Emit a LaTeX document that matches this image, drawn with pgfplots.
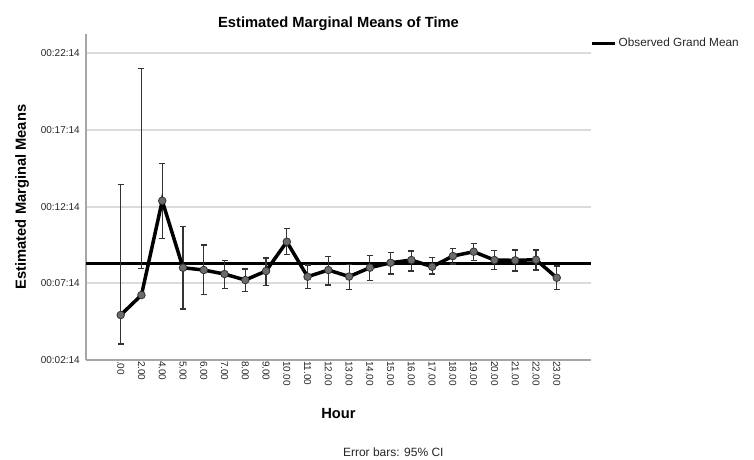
\documentclass[border=0pt]{standalone}
\usepackage{fontspec}
\setmainfont{Liberation Sans}
\usepackage{pgfplots}
\pgfplotsset{compat=1.18}
\usepackage{pgfplotstable}

% time in seconds; lo / hi = 95% CI bounds
\pgfplotstableread{
x mean lo hi
0 310.1 196.6 821.5
1 388.3 491.3 1275.4
2 757.3 608.6 904.9
3 495.2 333.6 655.6
4 486.2 391.1 584.0
5 470.5 414.6 522.6
6 447.0 401.3 490.1
7 482.3 424.7 533.1
8 596.9 547.6 647.8
9 460.0 413.0 505.7
10 486.2 427.5 538.2
11 460.7 410.7 508.5
12 495.2 445.9 543.7
13 514.7 470.5 553.9
14 525.3 482.3 560.5
15 499.1 470.5 535.9
16 541.0 509.6 571.1
17 557.8 522.6 590.7
18 525.3 488.9 561.7
19 524.1 482.3 564.4
20 526.5 486.2 564.4
21 456.0 410.7 501.8
}\datatable

\pgfplotstableread{
x y
-1.671 511.6
22.65 511.6
}\grandmean

\begin{document}
\begin{tikzpicture}
\path[use as bounding box] (-86pt,-99pt) rectangle (668pt,360pt);
\begin{axis}[
  at={(0pt,0pt)}, anchor=south west,
  scale only axis, width=505pt, height=326pt,
  xmin=-1.671, xmax=22.65, ymin=134, ymax=1410,
  axis x line*=bottom, axis y line*=left,
  axis line style={-, draw=black!35, line width=1.5pt},
  ytick={134,434,734,1034,1334},
  yticklabels={00:02:14,00:07:14,00:12:14,00:17:14,00:22:14},
  xtick={0,1,...,21},
  xticklabels={.00,2.00,4.00,5.00,6.00,7.00,8.00,9.00,10.00,11.00,12.00,13.00,14.00,15.00,16.00,17.00,18.00,19.00,20.00,21.00,22.00,23.00},
  major tick length=0pt,
  ymajorgrids, grid style={line width=2pt, black!14},
  tick label style={font=\fontsize{10}{12}\selectfont, text=black!85},
  xticklabel style={rotate=-90, anchor=west, xshift=-2.5pt},
  yticklabel style={xshift=-2.7pt},
  title={Estimated Marginal Means of Time},
  title style={font=\fontsize{14.7}{17}\selectfont\bfseries, at={(0.5,1.003)}, anchor=base},
  ylabel={Estimated Marginal Means},
  ylabel style={font=\fontsize{14.7}{17}\selectfont\bfseries, at={(-0.1267,0.5)}, anchor=center},
  xlabel={Hour},
  xlabel style={font=\fontsize{14.7}{17}\selectfont\bfseries, at={(0.5,-0.178)}, anchor=base},
  legend style={at={(0.999,0.971)}, anchor=west, draw=none, fill=none, inner sep=0pt,
    font=\fontsize{11.8}{13}\selectfont, text=black!85},
  legend image code/.code={\draw[line width=3pt, black] (0pt,0pt) -- (23pt,0pt);},
  clip=false,
]
\addplot[black, line width=3pt] table[x=x, y=y] {\grandmean};
\addlegendentry{Observed Grand Mean}

\addplot[draw=none, mark=none, forget plot,
  error bars/.cd, y dir=both, y explicit,
  error bar style={line width=1.1pt, black!80},
  error mark=-,
  error mark options={rotate=90, line width=1.1pt, black!80, mark size=3pt}]
  table[x=x, y expr={(\thisrow{hi}+\thisrow{lo})/2}, y error expr={(\thisrow{hi}-\thisrow{lo})/2}] {\datatable};

\addplot[black, line width=3.5pt, forget plot, mark=*, mark size=3.8pt,
  mark options={fill=black!58, draw=black!80, line width=0.8pt}]
  table[x=x, y=mean] {\datatable};

\node[anchor=base, inner sep=0pt, font=\fontsize{12}{14}\selectfont, text=black!85] at (rel axis cs:0.6085,-0.2945) {Error bars: 95\% CI};
\end{axis}
\end{tikzpicture}
\end{document}
